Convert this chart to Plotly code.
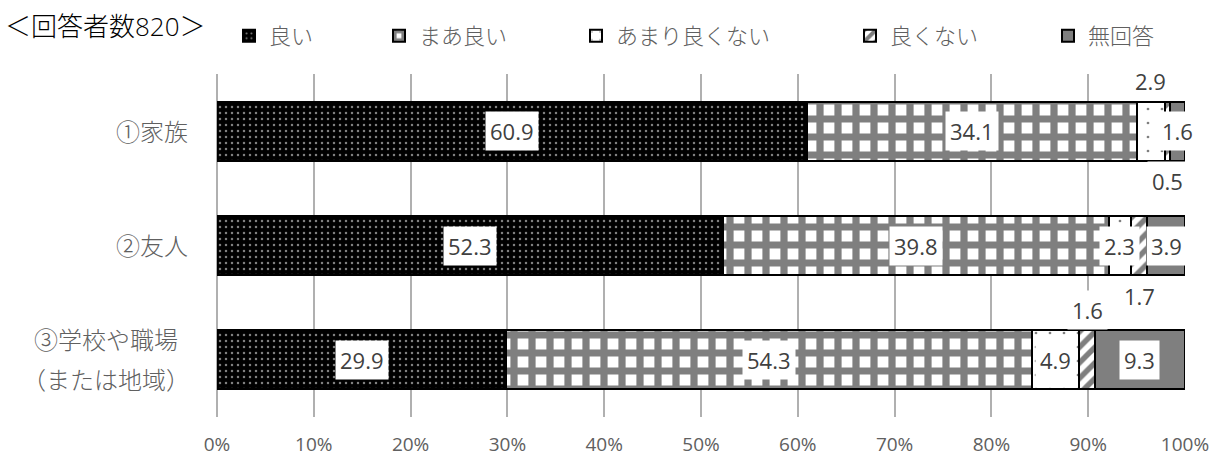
import plotly.graph_objects as go

# ---- data -------------------------------------------------------------
categories = ["①家族", "②友人", "③学校や職場\n（または地域）"]
series_names = ["良い", "まあ良い", "あまり良くない", "良くない", "無回答"]
good = [60.9, 52.3, 29.9]
fairly_good = [34.1, 39.8, 54.3]
not_very_good = [2.9, 2.3, 4.9]
not_good = [0.5, 1.7, 1.6]
no_answer = [1.6, 3.9, 9.3]
x_ticks = [0, 10, 20, 30, 40, 50, 60, 70, 80, 90, 100]
respondents = 820

series_values = [good, fairly_good, not_very_good, not_good, no_answer]

# ---- styling ----------------------------------------------------------
W, H = 1215, 457
M_L, M_R, M_T, M_B = 217, 30, 74, 40
FONT = "Open Sans, Noto Sans CJK JP, sans-serif"
GREY_TEXT = "#606060"
LABEL_TEXT = "#404040"
GRID = "#b0b0b0"

patterns = [
    dict(shape=".", bgcolor="#000000", fgcolor="#ffffff", size=6, solidity=0.14),
    dict(shape="+", bgcolor="#ffffff", fgcolor="#000000", size=18, solidity=0.64),
    dict(shape=".", bgcolor="#ffffff", fgcolor="#000000", size=14, solidity=0.03),
    dict(shape="/", bgcolor="#ffffff", fgcolor="#000000", size=11, solidity=0.5),
    None,
]
solid_colors = ["#000000", "#ffffff", "#ffffff", "#ffffff", "#7f7f7f"]

# legend text start (px) for each series, one legend box per series
legend_text_x = [269, 419, 616, 890, 1088]

# where small values are written relative to their segment
label_side = {(2, 0): "above", (3, 0): "below", (3, 1): "below", (3, 2): "above"}

fig = go.Figure()

for s, (name, vals) in enumerate(zip(series_names, series_values)):
    marker = dict(color=solid_colors[s], line=dict(color="#000000", width=2))
    if patterns[s] is not None:
        marker["pattern"] = dict(fillmode="overlay", **patterns[s])
    fig.add_trace(go.Bar(
        name=name,
        y=categories,
        x=vals,
        orientation="h",
        marker=marker,
        legend="legend" if s == 0 else f"legend{s + 1}",
        hoverinfo="skip",
    ))

# value labels
annotations = []
for ci, cat in enumerate(categories):
    start = 0.0
    for s, vals in enumerate(series_values):
        v = vals[ci]
        side = label_side.get((s, ci), "inside")
        shift = {"inside": 0, "above": 50, "below": -50}[side]
        annotations.append(dict(
            x=start + v / 2, y=cat, xref="x", yref="y",
            text=f"{v:.1f}", showarrow=False, yshift=shift,
            bgcolor="#ffffff", borderpad=4,
            font=dict(family=FONT, size=22, color=LABEL_TEXT),
        ))
        start += v

# category labels to the left of the bars
CAT_SIZE = 24
for cat in categories:
    lines = cat.split("\n")
    if len(lines) == 1:
        annotations.append(dict(
            x=0, y=cat, xref="paper", yref="y", text=cat, showarrow=False,
            xanchor="right", xshift=-27,
            font=dict(family=FONT, size=CAT_SIZE, color=GREY_TEXT, weight=300),
        ))
    else:
        longest = max(len(l) for l in lines)
        center_shift = -(27 + CAT_SIZE * longest / 2)
        step = 40
        for k, line in enumerate(lines):
            annotations.append(dict(
                x=0, y=cat, xref="paper", yref="y", text=line, showarrow=False,
                xanchor="center", xshift=center_shift,
                yshift=(len(lines) - 1) * step / 2 - k * step,
                font=dict(family=FONT, size=CAT_SIZE, color=GREY_TEXT, weight=300),
            ))

layout_legends = {}
for s in range(len(series_names)):
    key = "legend" if s == 0 else f"legend{s + 1}"
    layout_legends[key] = dict(
        orientation="h", xref="container", yref="container",
        x=(legend_text_x[s] - 40) / W, xanchor="left",
        y=1 - 36 / H, yanchor="middle",
        font=dict(family=FONT, size=22, color=GREY_TEXT, weight=300),
        itemwidth=30, bgcolor="rgba(0,0,0,0)", borderwidth=0,
    )

fig.update_layout(
    width=W, height=H,
    margin=dict(l=M_L, r=M_R, t=M_T, b=M_B, autoexpand=False),
    paper_bgcolor="#ffffff", plot_bgcolor="#ffffff",
    barmode="stack", bargap=0.485,
    showlegend=True,
    title=dict(
        text=f"＜回答者数{respondents}＞",
        xref="container", yref="container",
        x=5 / W, xanchor="left", y=1 - 27 / H, yanchor="middle",
        font=dict(family=FONT, size=26, color="#000000", weight=300),
    ),
    xaxis=dict(
        range=[0, 100], tickvals=x_ticks, ticktext=[f"{t}%" for t in x_ticks],
        showgrid=True, gridcolor=GRID, gridwidth=2,
        zeroline=True, zerolinecolor=GRID, zerolinewidth=2,
        showline=False, ticks="", ticklabelstandoff=14,
        tickfont=dict(family=FONT, size=19, color=GREY_TEXT),
    ),
    yaxis=dict(
        categoryorder="array", categoryarray=categories,
        autorange=False, range=[len(categories) - 0.5, -0.5],
        showticklabels=False, showgrid=False, zeroline=False, showline=False,
    ),
    annotations=annotations,
    **layout_legends,
)

fig.write_html("out.html")
